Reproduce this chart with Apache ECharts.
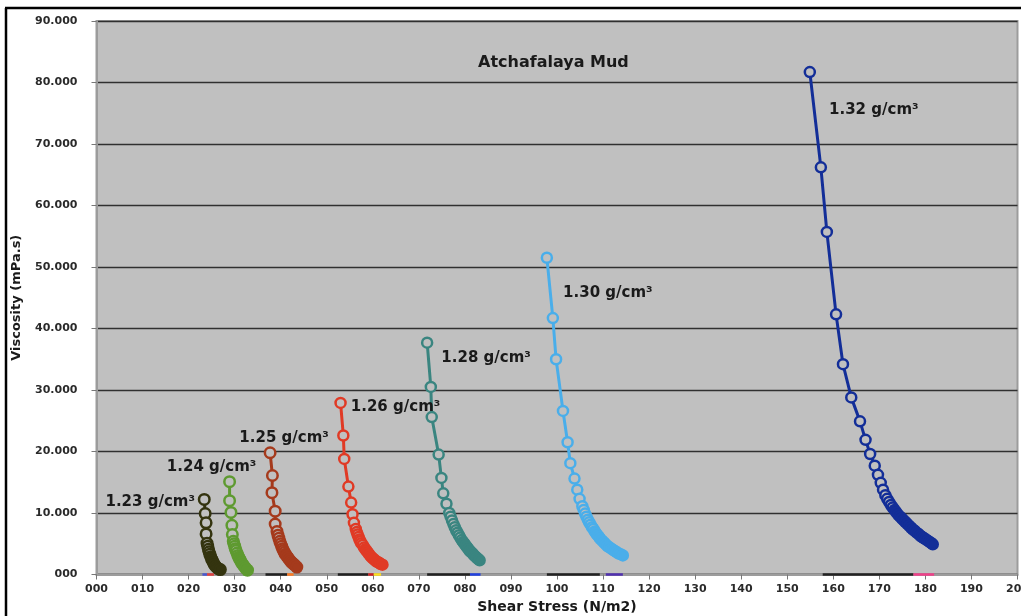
<!DOCTYPE html>
<html>
<head>
<meta charset="utf-8">
<script src="https://cdn.jsdelivr.net/npm/echarts@6/dist/echarts.min.js"></script>
<style>
html,body{margin:0;padding:0;background:#fff;}
#c{width:1021px;height:616px;}
</style>
</head>
<body>
<div id="c"></div>
<script>
// ---- data ----
const densities = ['1.23 g/cm³','1.24 g/cm³','1.25 g/cm³','1.26 g/cm³','1.28 g/cm³','1.30 g/cm³','1.32 g/cm³'];

const shear123 = [23.4,23.6,23.8,23.8,24.0,24.15,24.3,24.45,24.6,24.8,25.0,25.2,25.4,25.6,25.9,26.2,26.5,26.9];
const visc123  = [12.2,9.9,8.4,6.6,5.1,4.6,4.1,3.7,3.3,2.9,2.5,2.2,1.9,1.6,1.3,1.1,0.9,0.8];

const shear124 = [28.9,28.9,29.2,29.4,29.5,29.7,29.85,30.0,30.15,30.3,30.5,30.7,30.9,31.1,31.3,31.5,31.8,32.1,32.4,32.8];
const visc124  = [15.1,12.0,10.1,8.0,6.5,5.4,5.0,4.6,4.2,3.9,3.5,3.1,2.8,2.5,2.2,1.9,1.6,1.3,1.0,0.7];

const shear125 = [37.7,38.2,38.1,38.8,38.8,39.2,39.4,39.6,39.8,40.0,40.2,40.4,40.6,40.8,41.0,41.3,41.6,41.9,42.2,42.5,42.8,43.1,43.5];
const visc125  = [19.8,16.1,13.3,10.3,8.2,7.0,6.4,5.9,5.4,5.0,4.6,4.2,3.9,3.6,3.3,3.0,2.7,2.4,2.1,1.9,1.7,1.5,1.2];

const shear126 = [53.0,53.6,53.8,54.7,55.3,55.6,55.9,56.3,56.5,56.7,56.9,57.1,57.3,57.5,57.8,58.1,58.4,58.7,59.0,59.3,59.6,59.9,60.2,60.5,60.8,61.1,61.4,61.7,62.1];
const visc126  = [27.9,22.6,18.8,14.3,11.7,9.8,8.4,7.4,6.9,6.5,6.1,5.7,5.4,5.1,4.8,4.4,4.1,3.8,3.5,3.2,2.9,2.7,2.5,2.3,2.1,2.0,1.9,1.7,1.6];

const shear128 = [71.8,72.6,72.8,74.3,74.9,75.3,76.0,76.6,76.9,77.2,77.5,77.8,78.1,78.4,78.7,79.0,79.3,79.6,79.9,80.2,80.5,80.8,81.1,81.4,81.7,82.0,82.3,82.6,82.9,83.2];
const visc128  = [37.7,30.5,25.6,19.5,15.7,13.2,11.5,10.0,9.4,8.8,8.2,7.7,7.2,6.8,6.4,6.0,5.6,5.3,5.0,4.7,4.4,4.1,3.8,3.6,3.4,3.1,2.9,2.7,2.5,2.3];

const shear130 = [97.8,99.1,99.8,101.3,102.3,102.9,103.8,104.4,104.9,105.5,105.8,106.1,106.4,106.7,107.0,107.3,107.6,107.9,108.2,108.5,108.8,109.1,109.4,109.8,110.2,110.6,111.0,111.4,111.8,112.2,112.6,113.0,113.4,113.8,114.3];
const visc130  = [51.5,41.7,35.0,26.6,21.5,18.1,15.6,13.8,12.3,11.1,10.5,9.9,9.4,8.9,8.5,8.1,7.7,7.4,7.0,6.7,6.4,6.1,5.8,5.5,5.2,4.9,4.6,4.4,4.2,4.0,3.8,3.6,3.4,3.3,3.1];

const shear132 = [154.9,157.3,158.6,160.6,162.1,163.9,165.8,167.0,168.0,169.0,169.7,170.3,170.8,171.3,171.7,172.1,172.5,172.9,173.3,173.7,174.1,174.5,174.9,175.3,175.7,176.1,176.5,176.9,177.3,177.7,178.1,178.5,178.9,179.3,179.7,180.1,180.5,180.9,181.3,181.6];
const visc132  = [81.7,66.2,55.7,42.3,34.2,28.8,24.9,21.9,19.6,17.7,16.2,14.9,13.8,12.9,12.3,11.8,11.3,10.9,10.5,10.1,9.7,9.4,9.1,8.8,8.5,8.2,7.9,7.6,7.3,7.1,6.8,6.6,6.3,6.1,5.9,5.7,5.5,5.3,5.1,4.9];

// zero-valued stub series lying on the x axis (start, end shear stress)
const stubRanges = [[23.0,24.0],[24.0,25.5],[31.9,32.7],[36.7,41.4],[41.4,42.8],[52.4,59.0],[59.0,60.2],[60.2,61.8],[71.8,81.1],[81.1,83.4],[97.8,109.3],[110.6,114.3],[157.7,177.4],[177.4,181.9]];

const yTicks = [0,10,20,30,40,50,60,70,80,90];

// ---- styles ----
const colors = ['#34340f','#5e9a30','#a53a1c','#e03a25','#3a8580','#4aaeea','#132e98'];
const stubColors = ['#4a58d0','#e04040','#40c020','#222222','#ff7a20','#222222','#d02020','#ffe020','#222222','#2040e0','#222222','#5030b0','#222222','#f0408a'];
const labelOffsets = [[-54,3],[-18,-15],[14,-15],[55,4],[59,15],[61,35],[64,38]];
// below this viscosity the overlapping markers merge into a solid band
const solidBelow = [3.0,3.0,3.6,4.4,5.6,7.2,10.6];
const FONT = 'DejaVu Sans';

const groups = [
  [shear123,visc123],[shear124,visc124],[shear125,visc125],[shear126,visc126],
  [shear128,visc128],[shear130,visc130],[shear132,visc132]
];

const series = [];
stubRanges.forEach((r,i)=>{
  series.push({
    type:'line', silent:true, symbol:'none', z:1,
    data:[[r[0],0],[r[1],0]],
    lineStyle:{color:stubColors[i], width:2.5},
    clip:false
  });
});
groups.forEach((g,i)=>{
  const data = g[0].map((x,j)=>{
    const item = {value:[x,g[1][j]]};
    if (g[1][j] < solidBelow[i]) item.itemStyle = {color:colors[i]};
    if (j===0) {
      item.label = {
        show:true, position:'inside', offset:labelOffsets[i],
        formatter: densities[i],
        fontFamily:FONT, fontWeight:'bold', fontSize:15, color:'#1a1a1a'
      };
    }
    return item;
  });
  series.push({
    type:'line', name:densities[i], data:data,
    symbol:'circle', symbolSize: i<3 ? 10.5 : 10,
    showSymbol:true, showAllSymbol:true,
    lineStyle:{color:colors[i], width:3},
    itemStyle:{color:'#c0c0c0', borderColor:colors[i], borderWidth: 2.5},
    z:3
  });
});

const chart = echarts.init(document.getElementById('c'), null, {renderer:'canvas'});
chart.setOption({
  animation:false,
  backgroundColor:'#ffffff',
  title:{
    text:'Atchafalaya Mud', left:473, top:50,
    textStyle:{fontFamily:FONT, fontWeight:'bold', fontSize:16, color:'#1a1a1a'}
  },
  grid:{
    left:96.5, right:3.5, top:21, bottom:41.5,
    outerBoundsMode:'none', containLabel:false,
    show:true, backgroundColor:'#c0c0c0', borderColor:'#9c9c9c', borderWidth:2
  },
  xAxis:{
    type:'value', min:0, max:200, interval:10,
    name:'Shear Stress (N/m2)', nameLocation:'middle', nameGap:26,
    nameTextStyle:{fontFamily:FONT, fontWeight:'bold', fontSize:14, color:'#1a1a1a'},
    axisLine:{show:true, onZero:false, lineStyle:{color:'#9c9c9c', width:2}},
    axisTick:{show:true, length:5, lineStyle:{color:'#777'}},
    splitLine:{show:false},
    axisLabel:{
      margin:9, fontFamily:FONT, fontWeight:'bold', fontSize:11, color:'#2a2a2a',
      hideOverlap:false, showMaxLabel:true, showMinLabel:true,
      formatter:v=>String(v).padStart(3,'0')
    }
  },
  yAxis:{
    type:'value', min:yTicks[0], max:yTicks[yTicks.length-1], interval:10,
    name:'Viscosity (mPa.s)', nameLocation:'middle', nameGap:73, nameRotate:90,
    nameTextStyle:{fontFamily:FONT, fontWeight:'bold', fontSize:13, color:'#1a1a1a'},
    axisLine:{show:true, lineStyle:{color:'#9c9c9c', width:2}},
    axisTick:{show:true, length:5, lineStyle:{color:'#777'}},
    splitLine:{show:true, lineStyle:{color:'#303030', width:1.3}},
    axisLabel:{
      margin:19, fontFamily:FONT, fontWeight:'bold', fontSize:11, color:'#2a2a2a',
      formatter:v=> v===0 ? '000' : v+'.000'
    }
  },
  graphic:[
    {type:'line', silent:true, z:100, shape:{x1:6, y1:8, x2:6, y2:616}, style:{stroke:'#000', lineWidth:2.5}},
    {type:'line', silent:true, z:100, shape:{x1:5, y1:8, x2:1021, y2:8}, style:{stroke:'#000', lineWidth:2.5}}
  ],
  series:series
});
</script>
</body>
</html>
